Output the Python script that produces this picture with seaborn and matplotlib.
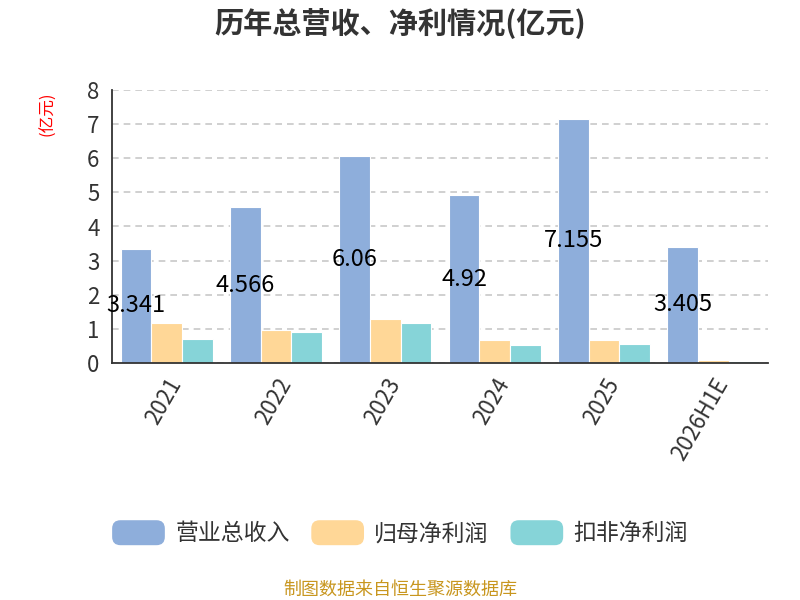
import numpy as np
import pandas as pd
import matplotlib
matplotlib.use("Agg")
import matplotlib.pyplot as plt
import seaborn as sns
from matplotlib.patches import FancyBboxPatch
from matplotlib.legend_handler import HandlerPatch

# Datos (亿元)
years = ['2021', '2022', '2023', '2024', '2025', '2026H1E']
revenue = [3.341, 4.566, 6.06, 4.92, 7.155, 3.405]
net_profit = [1.17, 0.98, 1.30, 0.66, 0.68, 0.09]
deducted_profit = [0.71, 0.91, 1.18, 0.54, 0.56, 0.05]
series_names = ['营业总收入', '归母净利润', '扣非净利润']
colors = ['#8eaedb', '#ffd797', '#86d4d8']

df = pd.DataFrame({'年份': years, series_names[0]: revenue,
                   series_names[1]: net_profit, series_names[2]: deducted_profit})
df_long = df.melt(id_vars='年份', var_name='指标', value_name='值')

sns.set_style('white')
plt.rcParams['font.family'] = ['Noto Sans CJK SC', 'DejaVu Sans']
plt.rcParams['axes.unicode_minus'] = False

fig = plt.figure(figsize=(8, 6), dpi=100)
ax = fig.add_axes([0.14, 0.395, 0.82, 0.455])

sns.barplot(data=df_long, x='年份', y='值', hue='指标', palette=colors,
            saturation=1, width=0.84, edgecolor='white', linewidth=0.8,
            ax=ax, legend=False)

# etiqueta en el centro de las barras de ingresos
ax.bar_label(ax.containers[0], labels=[f'{v:g}' for v in revenue],
             label_type='center', fontsize=17, color='black')

ax.set_ylim(0, 8)
ax.set_xlim(-0.5, len(years) - 0.5)
ax.set_yticks(range(0, 9))
ax.yaxis.grid(True, linestyle=(0, (4, 3)), color='#c8c8c8', linewidth=1.2)
ax.set_axisbelow(True)
ax.set_xlabel('')
ax.set_ylabel('')

for s in ['top', 'right']:
    ax.spines[s].set_visible(False)
for s in ['left', 'bottom']:
    ax.spines[s].set_color('#333333')
    ax.spines[s].set_linewidth(1.3)

ax.tick_params(axis='y', length=6, width=1.3, color='#333333',
               labelsize=16, labelcolor='#333333', pad=3)
ax.tick_params(axis='x', which='major', length=0, labelsize=16,
               labelcolor='#333333', pad=8)
ax.set_xticks(np.arange(-0.5, len(years), 1), minor=True)
ax.tick_params(axis='x', which='minor', length=6, width=1.3, color='#333333')
plt.setp(ax.get_xticklabels(), rotation=60, ha='right', rotation_mode='anchor')

fig.text(0.5, 0.962, '历年总营收、净利情况(亿元)', ha='center', va='center',
         fontsize=21, fontweight='bold', color='#333333')
fig.text(0.06, 0.81, '(亿元)', ha='center', va='center', rotation=90,
         fontsize=12, color='red')


class RoundHandler(HandlerPatch):
    def create_artists(self, legend, orig_handle, xdescent, ydescent,
                       width, height, fontsize, trans):
        p = FancyBboxPatch((-xdescent, -ydescent), width, height,
                           boxstyle='round,pad=0,rounding_size=6',
                           facecolor=orig_handle.get_facecolor(),
                           edgecolor='none', transform=trans)
        return [p]


handles = [plt.Rectangle((0, 0), 1, 1, facecolor=c) for c in colors]
fig.legend(handles, series_names, loc='center', bbox_to_anchor=(0.5, 0.112),
           ncol=3, frameon=False, fontsize=16.5, handlelength=2.3,
           handleheight=1.3, columnspacing=0.95, handletextpad=0.45,
           labelcolor='#333333',
           handler_map={plt.Rectangle: RoundHandler()})

fig.text(0.5, 0.017, '制图数据来自恒生聚源数据库', ha='center', va='center',
         fontsize=13, color='#c8961e')

fig.savefig('out.png', dpi=100)
